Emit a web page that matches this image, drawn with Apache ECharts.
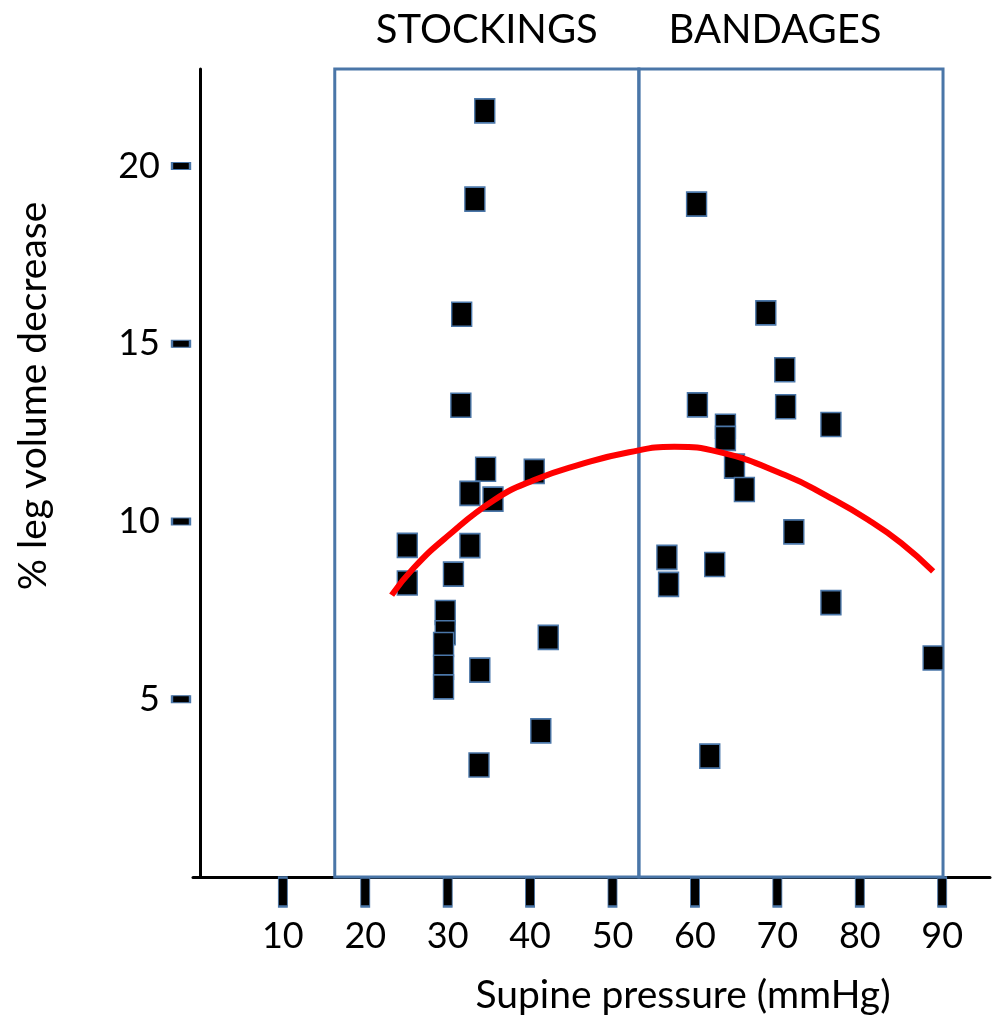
<!DOCTYPE html>
<html>
<head>
<meta charset="utf-8">
<script src="https://cdn.jsdelivr.net/npm/echarts@6/dist/echarts.min.js"></script>
<style>
  html, body { margin: 0; padding: 0; background: #fff; }
  #echart { width: 995px; height: 1016px; }
</style>
</head>
<body>
<div id="echart"></div>
<script>
// values
var stockingX = [34.5, 33.3, 31.7, 31.6, 34.6, 40.5, 32.7, 35.5, 25.1, 32.7, 25.1, 30.7, 29.7, 29.7, 29.5, 29.5, 29.5, 33.9, 42.2, 41.3, 33.8];
var stockingY = [21.55, 19.07, 15.83, 13.27, 11.47, 11.41, 10.79, 10.63, 9.33, 9.32, 8.27, 8.52, 7.44, 6.87, 6.54, 5.90, 5.35, 5.82, 6.74, 4.11, 3.15];
var bandageX = [60.2, 68.6, 70.9, 60.3, 71.0, 76.5, 63.7, 63.7, 64.8, 66.0, 72.0, 56.6, 56.8, 62.4, 76.5, 88.9, 61.8];
var bandageY = [18.93, 15.87, 14.27, 13.28, 13.23, 12.73, 12.68, 12.34, 11.56, 10.90, 9.71, 8.99, 8.23, 8.79, 7.72, 6.16, 3.40];
var fitX = [23.2, 25.9, 29.9, 35.6, 40.5, 46, 52, 57.5, 63, 71, 76, 81, 85, 88.9];
var fitY = [7.93, 8.7, 9.57, 10.6, 11.17, 11.6, 11.95, 12.1, 11.95, 11.3, 10.72, 10.05, 9.4, 8.6];
var groupNames = ['STOCKINGS', 'BANDAGES'];
var groupFrom = [16.3, 53.2];
var groupTo = [53.2, 90.1];
var xTicks = [10, 20, 30, 40, 50, 60, 70, 80, 90];
var yTicks = [5, 10, 15, 20];

var xMin = -0.9, xMax = 95.8, yMin = 0, yMax = 22.73;
var font = 'Lato, "Open Sans", sans-serif';
var blue = '#4a76a8';
var headingShift = [0, -16];

function zip(a, b) {
    return a.map(function (v, i) { return [v, b[i]]; });
}

var boxStyle = { color: '#000', borderColor: blue, borderWidth: 1.5, opacity: 1 };

var myChart = echarts.init(document.getElementById('echart'));
var option = {
    animation: false,
    grid: { left: 193, right: 5, top: 69, bottom: 139 },
    xAxis: {
        type: 'value',
        min: xMin,
        max: xMax,
        splitLine: { show: false },
        axisLine: { lineStyle: { color: '#000', width: 3 } },
        axisTick: { show: false },
        axisLabel: {
            customValues: xTicks,
            margin: 41,
            fontSize: 36,
            fontFamily: font,
            color: '#000'
        }
    },
    yAxis: {
        type: 'value',
        min: yMin,
        max: yMax,
        splitLine: { show: false },
        axisLine: { lineStyle: { color: '#000', width: 3 } },
        axisTick: { show: false },
        axisLabel: {
            customValues: yTicks,
            margin: 33,
            fontSize: 36,
            fontFamily: font,
            color: '#000'
        }
    },
    graphic: [{
        type: 'text',
        x: 33,
        y: 396,
        rotation: Math.PI / 2,
        style: {
            text: '% leg volume decrease',
            fontSize: 39,
            fontFamily: font,
            fill: '#000',
            align: 'center',
            verticalAlign: 'middle'
        }
    }, {
        type: 'text',
        x: 683,
        y: 995,
        style: {
            text: 'Supine pressure (mmHg)',
            fontSize: 39,
            fontFamily: font,
            fill: '#000',
            align: 'center',
            verticalAlign: 'middle'
        }
    }],
    series: [
        {
            // group boxes with their headings
            type: 'scatter',
            data: [],
            clip: false,
            markArea: {
                silent: true,
                itemStyle: { color: 'rgba(0,0,0,0)', borderColor: blue, borderWidth: 3 },
                label: {
                    show: true,
                    position: 'top',
                    distance: 17,
                    fontSize: 40,
                    fontFamily: font,
                    color: '#000'
                },
                data: groupNames.map(function (n, i) {
                    return [
                        { name: n, xAxis: groupFrom[i], yAxis: yMin, label: { offset: [headingShift[i], 0] } },
                        { xAxis: groupTo[i], yAxis: yMax }
                    ];
                })
            },
            z: 3
        },
        {
            // x tick marks
            type: 'scatter',
            data: xTicks.map(function (v) { return [v, yMin]; }),
            symbol: 'rect',
            symbolSize: [9, 29],
            symbolOffset: [0, 15],
            clip: false,
            silent: true,
            itemStyle: boxStyle,
            z: 4
        },
        {
            // y tick marks
            type: 'scatter',
            data: yTicks.map(function (v) { return [xMin, v]; }),
            symbol: 'rect',
            symbolSize: [18, 7],
            symbolOffset: [-12, 0],
            clip: false,
            silent: true,
            itemStyle: boxStyle,
            z: 4
        },
        {
            name: 'Stockings',
            type: 'scatter',
            data: zip(stockingX, stockingY),
            symbol: 'rect',
            symbolSize: [20, 24],
            itemStyle: boxStyle,
            z: 5
        },
        {
            name: 'Bandages',
            type: 'scatter',
            data: zip(bandageX, bandageY),
            symbol: 'rect',
            symbolSize: [20, 24],
            itemStyle: boxStyle,
            z: 5
        },
        {
            name: 'Fit',
            type: 'line',
            data: zip(fitX, fitY),
            smooth: true,
            showSymbol: false,
            lineStyle: { color: '#ff0000', width: 6 },
            z: 6
        }
    ]
};
myChart.setOption(option);
</script>
</body>
</html>
